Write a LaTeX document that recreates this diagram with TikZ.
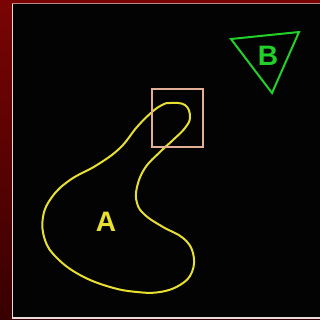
\documentclass[tikz,border=0pt]{standalone}
\usepackage{fontspec}
\setmainfont{Liberation Sans}
\usetikzlibrary{calc}
\definecolor{bgred}{HTML}{7A0404}
\definecolor{bgdark}{HTML}{380000}
\definecolor{pblack}{HTML}{030303}
\definecolor{pborder}{HTML}{E6DCDC}
\definecolor{blobyel}{HTML}{E8E030}
\definecolor{trigreen}{HTML}{22D02A}
\definecolor{boxpeach}{HTML}{E2AE96}
\newcommand{\lblfont}{\fontsize{20}{22}\selectfont\bfseries}

\begin{document}
\begin{tikzpicture}[x=0.25mm,y=-0.25mm]
\useasboundingbox (0,0) rectangle (320,320);
\shade[top color=bgred,bottom color=bgdark] (0,0) rectangle (320,320);
\fill[pblack] (12.5,3.5) rectangle (322,318);
\draw[pborder,line width=0.4mm] (12.5,3.5) -- (12.5,318) -- (322,318);
\draw[pborder!60!bgred,line width=0.3mm] (12.5,3.5) -- (322,3.5);
% region A
\draw[blobyel,line width=0.5mm] plot[smooth cycle,tension=0.7] coordinates {
 (170,103) (185,105) (190,117) (185,128) (173,140) (160,152) (145,168)
 (137,187) (137,203) (145,215) (163,227) (183,238) (193,253) (192,272)
 (180,285) (160,292) (137,292) (110,287) (80,275) (57,258) (45,240)
 (43,217) (52,197) (70,180) (97,165) (120,148) (137,127) (152,112) (162,105)};
\node[text=blobyel,font=\lblfont] (labA) at (106,222) {A};
% query box
\draw[boxpeach,line width=0.5mm] (152.5,89) rectangle (203,147);
% region B
\draw[trigreen,line width=0.5mm,line join=miter] (231,39) -- (299,32) -- (272,93) -- cycle;
\node[text=trigreen,font=\lblfont] (labB) at (268,56) {B};
\end{tikzpicture}
\end{document}
